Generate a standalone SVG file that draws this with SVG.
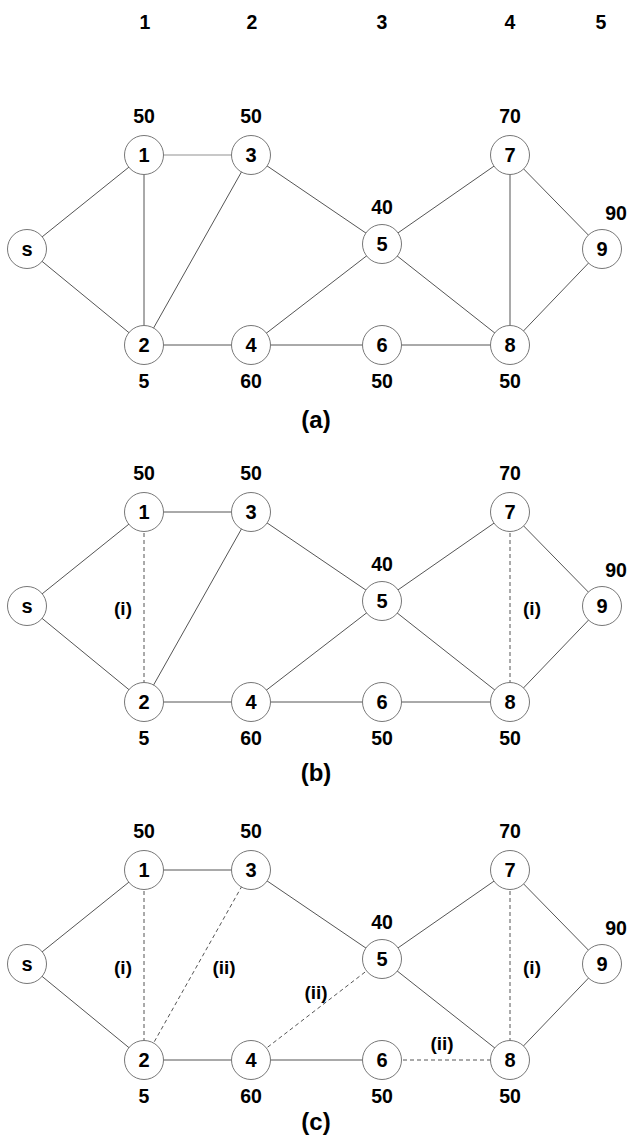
<svg xmlns="http://www.w3.org/2000/svg" width="628" height="1137" viewBox="0 0 628 1137">
<style>
text{font-family:"Liberation Sans",Arial,sans-serif;font-weight:bold;fill:#000;text-anchor:middle}
.lbl{font-size:19.5px}
.nl{font-size:20px}
.il{font-size:19px}
.cap{font-size:24px}
.e{stroke:#555;stroke-width:1;fill:none}
.lt{stroke:#c8c8c8;stroke-width:2;fill:none}
.d{stroke:#555;stroke-width:1;stroke-dasharray:4 3;fill:none}
circle{fill:#fff;stroke:#777;stroke-width:1}
</style>
<g id="column-labels">
<text class="lbl" x="145" y="29">1</text>
<text class="lbl" x="252" y="29">2</text>
<text class="lbl" x="382" y="29">3</text>
<text class="lbl" x="510" y="29">4</text>
<text class="lbl" x="601" y="29">5</text>
</g>

<!-- Panel (a) -->
<g id="panel-a">
<g id="connectors-a">
<line class="e" x1="27" y1="249" x2="144" y2="155"/>
<line class="e" x1="27" y1="249" x2="144" y2="345"/>
<line class="lt" x1="144" y1="155" x2="251" y2="155"/>
<line class="e" x1="144" y1="155" x2="144" y2="345"/>
<line class="e" x1="144" y1="345" x2="251" y2="155"/>
<line class="e" x1="144" y1="345" x2="251" y2="345"/>
<line class="e" x1="251" y1="155" x2="382" y2="244"/>
<line class="e" x1="251" y1="345" x2="382" y2="244"/>
<line class="e" x1="251" y1="345" x2="382" y2="345"/>
<line class="e" x1="382" y1="244" x2="510" y2="155"/>
<line class="e" x1="382" y1="244" x2="510" y2="345"/>
<line class="e" x1="382" y1="345" x2="510" y2="345"/>
<line class="e" x1="510" y1="155" x2="510" y2="345"/>
<line class="e" x1="510" y1="155" x2="602" y2="249"/>
<line class="e" x1="510" y1="345" x2="602" y2="249"/>
</g>
<g id="a-s"><circle cx="27" cy="249" r="19.5"/><text class="nl" x="27" y="256">s</text></g>
<g id="a-n1"><circle cx="144" cy="155" r="19.5"/><text class="nl" x="144" y="162">1</text><text class="lbl" x="144" y="123">50</text></g>
<g id="a-n3"><circle cx="251" cy="155" r="19.5"/><text class="nl" x="251" y="162">3</text><text class="lbl" x="251" y="123">50</text></g>
<g id="a-n5"><circle cx="382" cy="244" r="19.5"/><text class="nl" x="382" y="251">5</text><text class="lbl" x="382" y="214">40</text></g>
<g id="a-n7"><circle cx="510" cy="155" r="19.5"/><text class="nl" x="510" y="162">7</text><text class="lbl" x="510" y="123">70</text></g>
<g id="a-n9"><circle cx="602" cy="249" r="19.5"/><text class="nl" x="602" y="256">9</text><text class="lbl" x="616" y="220">90</text></g>
<g id="a-n2"><circle cx="144" cy="345" r="19.5"/><text class="nl" x="144" y="352">2</text><text class="lbl" x="144" y="388">5</text></g>
<g id="a-n4"><circle cx="251" cy="345" r="19.5"/><text class="nl" x="251" y="352">4</text><text class="lbl" x="251" y="388">60</text></g>
<g id="a-n6"><circle cx="382" cy="345" r="19.5"/><text class="nl" x="382" y="352">6</text><text class="lbl" x="382" y="388">50</text></g>
<g id="a-n8"><circle cx="510" cy="345" r="19.5"/><text class="nl" x="510" y="352">8</text><text class="lbl" x="510" y="388">50</text></g>
<text class="cap" x="316" y="428">(a)</text>
</g>

<!-- Panel (b) -->
<g id="panel-b" transform="translate(0,357)">
<g id="connectors-b">
<line class="e" x1="27" y1="249" x2="144" y2="155"/>
<line class="e" x1="27" y1="249" x2="144" y2="345"/>
<line class="e" x1="144" y1="155" x2="251" y2="155"/>
<line class="d" x1="144" y1="155" x2="144" y2="345"/>
<line class="e" x1="144" y1="345" x2="251" y2="155"/>
<line class="e" x1="144" y1="345" x2="251" y2="345"/>
<line class="e" x1="251" y1="155" x2="382" y2="244"/>
<line class="e" x1="251" y1="345" x2="382" y2="244"/>
<line class="e" x1="251" y1="345" x2="382" y2="345"/>
<line class="e" x1="382" y1="244" x2="510" y2="155"/>
<line class="e" x1="382" y1="244" x2="510" y2="345"/>
<line class="e" x1="382" y1="345" x2="510" y2="345"/>
<line class="d" x1="510" y1="155" x2="510" y2="345"/>
<line class="e" x1="510" y1="155" x2="602" y2="249"/>
<line class="e" x1="510" y1="345" x2="602" y2="249"/>
</g>
<g id="b-s"><circle cx="27" cy="249" r="19.5"/><text class="nl" x="27" y="256">s</text></g>
<g id="b-n1"><circle cx="144" cy="155" r="19.5"/><text class="nl" x="144" y="162">1</text><text class="lbl" x="144" y="123">50</text></g>
<g id="b-n3"><circle cx="251" cy="155" r="19.5"/><text class="nl" x="251" y="162">3</text><text class="lbl" x="251" y="123">50</text></g>
<g id="b-n5"><circle cx="382" cy="244" r="19.5"/><text class="nl" x="382" y="251">5</text><text class="lbl" x="382" y="214">40</text></g>
<g id="b-n7"><circle cx="510" cy="155" r="19.5"/><text class="nl" x="510" y="162">7</text><text class="lbl" x="510" y="123">70</text></g>
<g id="b-n9"><circle cx="602" cy="249" r="19.5"/><text class="nl" x="602" y="256">9</text><text class="lbl" x="616" y="220">90</text></g>
<g id="b-n2"><circle cx="144" cy="345" r="19.5"/><text class="nl" x="144" y="352">2</text><text class="lbl" x="144" y="388">5</text></g>
<g id="b-n4"><circle cx="251" cy="345" r="19.5"/><text class="nl" x="251" y="352">4</text><text class="lbl" x="251" y="388">60</text></g>
<g id="b-n6"><circle cx="382" cy="345" r="19.5"/><text class="nl" x="382" y="352">6</text><text class="lbl" x="382" y="388">50</text></g>
<g id="b-n8"><circle cx="510" cy="345" r="19.5"/><text class="nl" x="510" y="352">8</text><text class="lbl" x="510" y="388">50</text></g>
<text class="il" x="123" y="258">(i)</text>
<text class="il" x="532" y="258">(i)</text>
<text class="cap" x="316" y="424">(b)</text>
</g>

<!-- Panel (c) -->
<g id="panel-c" transform="translate(0,715)">
<g id="connectors-c">
<line class="e" x1="27" y1="249" x2="144" y2="155"/>
<line class="e" x1="27" y1="249" x2="144" y2="345"/>
<line class="e" x1="144" y1="155" x2="251" y2="155"/>
<line class="d" x1="144" y1="155" x2="144" y2="345"/>
<line class="d" x1="144" y1="345" x2="251" y2="155"/>
<line class="e" x1="144" y1="345" x2="251" y2="345"/>
<line class="e" x1="251" y1="155" x2="382" y2="244"/>
<line class="d" x1="251" y1="345" x2="382" y2="244"/>
<line class="e" x1="251" y1="345" x2="382" y2="345"/>
<line class="e" x1="382" y1="244" x2="510" y2="155"/>
<line class="e" x1="382" y1="244" x2="510" y2="345"/>
<line class="d" x1="382" y1="345" x2="510" y2="345"/>
<line class="d" x1="510" y1="155" x2="510" y2="345"/>
<line class="e" x1="510" y1="155" x2="602" y2="249"/>
<line class="e" x1="510" y1="345" x2="602" y2="249"/>
</g>
<g id="c-s"><circle cx="27" cy="249" r="19.5"/><text class="nl" x="27" y="256">s</text></g>
<g id="c-n1"><circle cx="144" cy="155" r="19.5"/><text class="nl" x="144" y="162">1</text><text class="lbl" x="144" y="123">50</text></g>
<g id="c-n3"><circle cx="251" cy="155" r="19.5"/><text class="nl" x="251" y="162">3</text><text class="lbl" x="251" y="123">50</text></g>
<g id="c-n5"><circle cx="382" cy="244" r="19.5"/><text class="nl" x="382" y="251">5</text><text class="lbl" x="382" y="214">40</text></g>
<g id="c-n7"><circle cx="510" cy="155" r="19.5"/><text class="nl" x="510" y="162">7</text><text class="lbl" x="510" y="123">70</text></g>
<g id="c-n9"><circle cx="602" cy="249" r="19.5"/><text class="nl" x="602" y="256">9</text><text class="lbl" x="616" y="220">90</text></g>
<g id="c-n2"><circle cx="144" cy="345" r="19.5"/><text class="nl" x="144" y="352">2</text><text class="lbl" x="144" y="388">5</text></g>
<g id="c-n4"><circle cx="251" cy="345" r="19.5"/><text class="nl" x="251" y="352">4</text><text class="lbl" x="251" y="388">60</text></g>
<g id="c-n6"><circle cx="382" cy="345" r="19.5"/><text class="nl" x="382" y="352">6</text><text class="lbl" x="382" y="388">50</text></g>
<g id="c-n8"><circle cx="510" cy="345" r="19.5"/><text class="nl" x="510" y="352">8</text><text class="lbl" x="510" y="388">50</text></g>
<text class="il" x="123" y="259">(i)</text>
<text class="il" x="224" y="259">(ii)</text>
<text class="il" x="316" y="284">(ii)</text>
<text class="il" x="442" y="335">(ii)</text>
<text class="il" x="532" y="259">(i)</text>
<text class="cap" x="316" y="415">(c)</text>
</g>
</svg>
